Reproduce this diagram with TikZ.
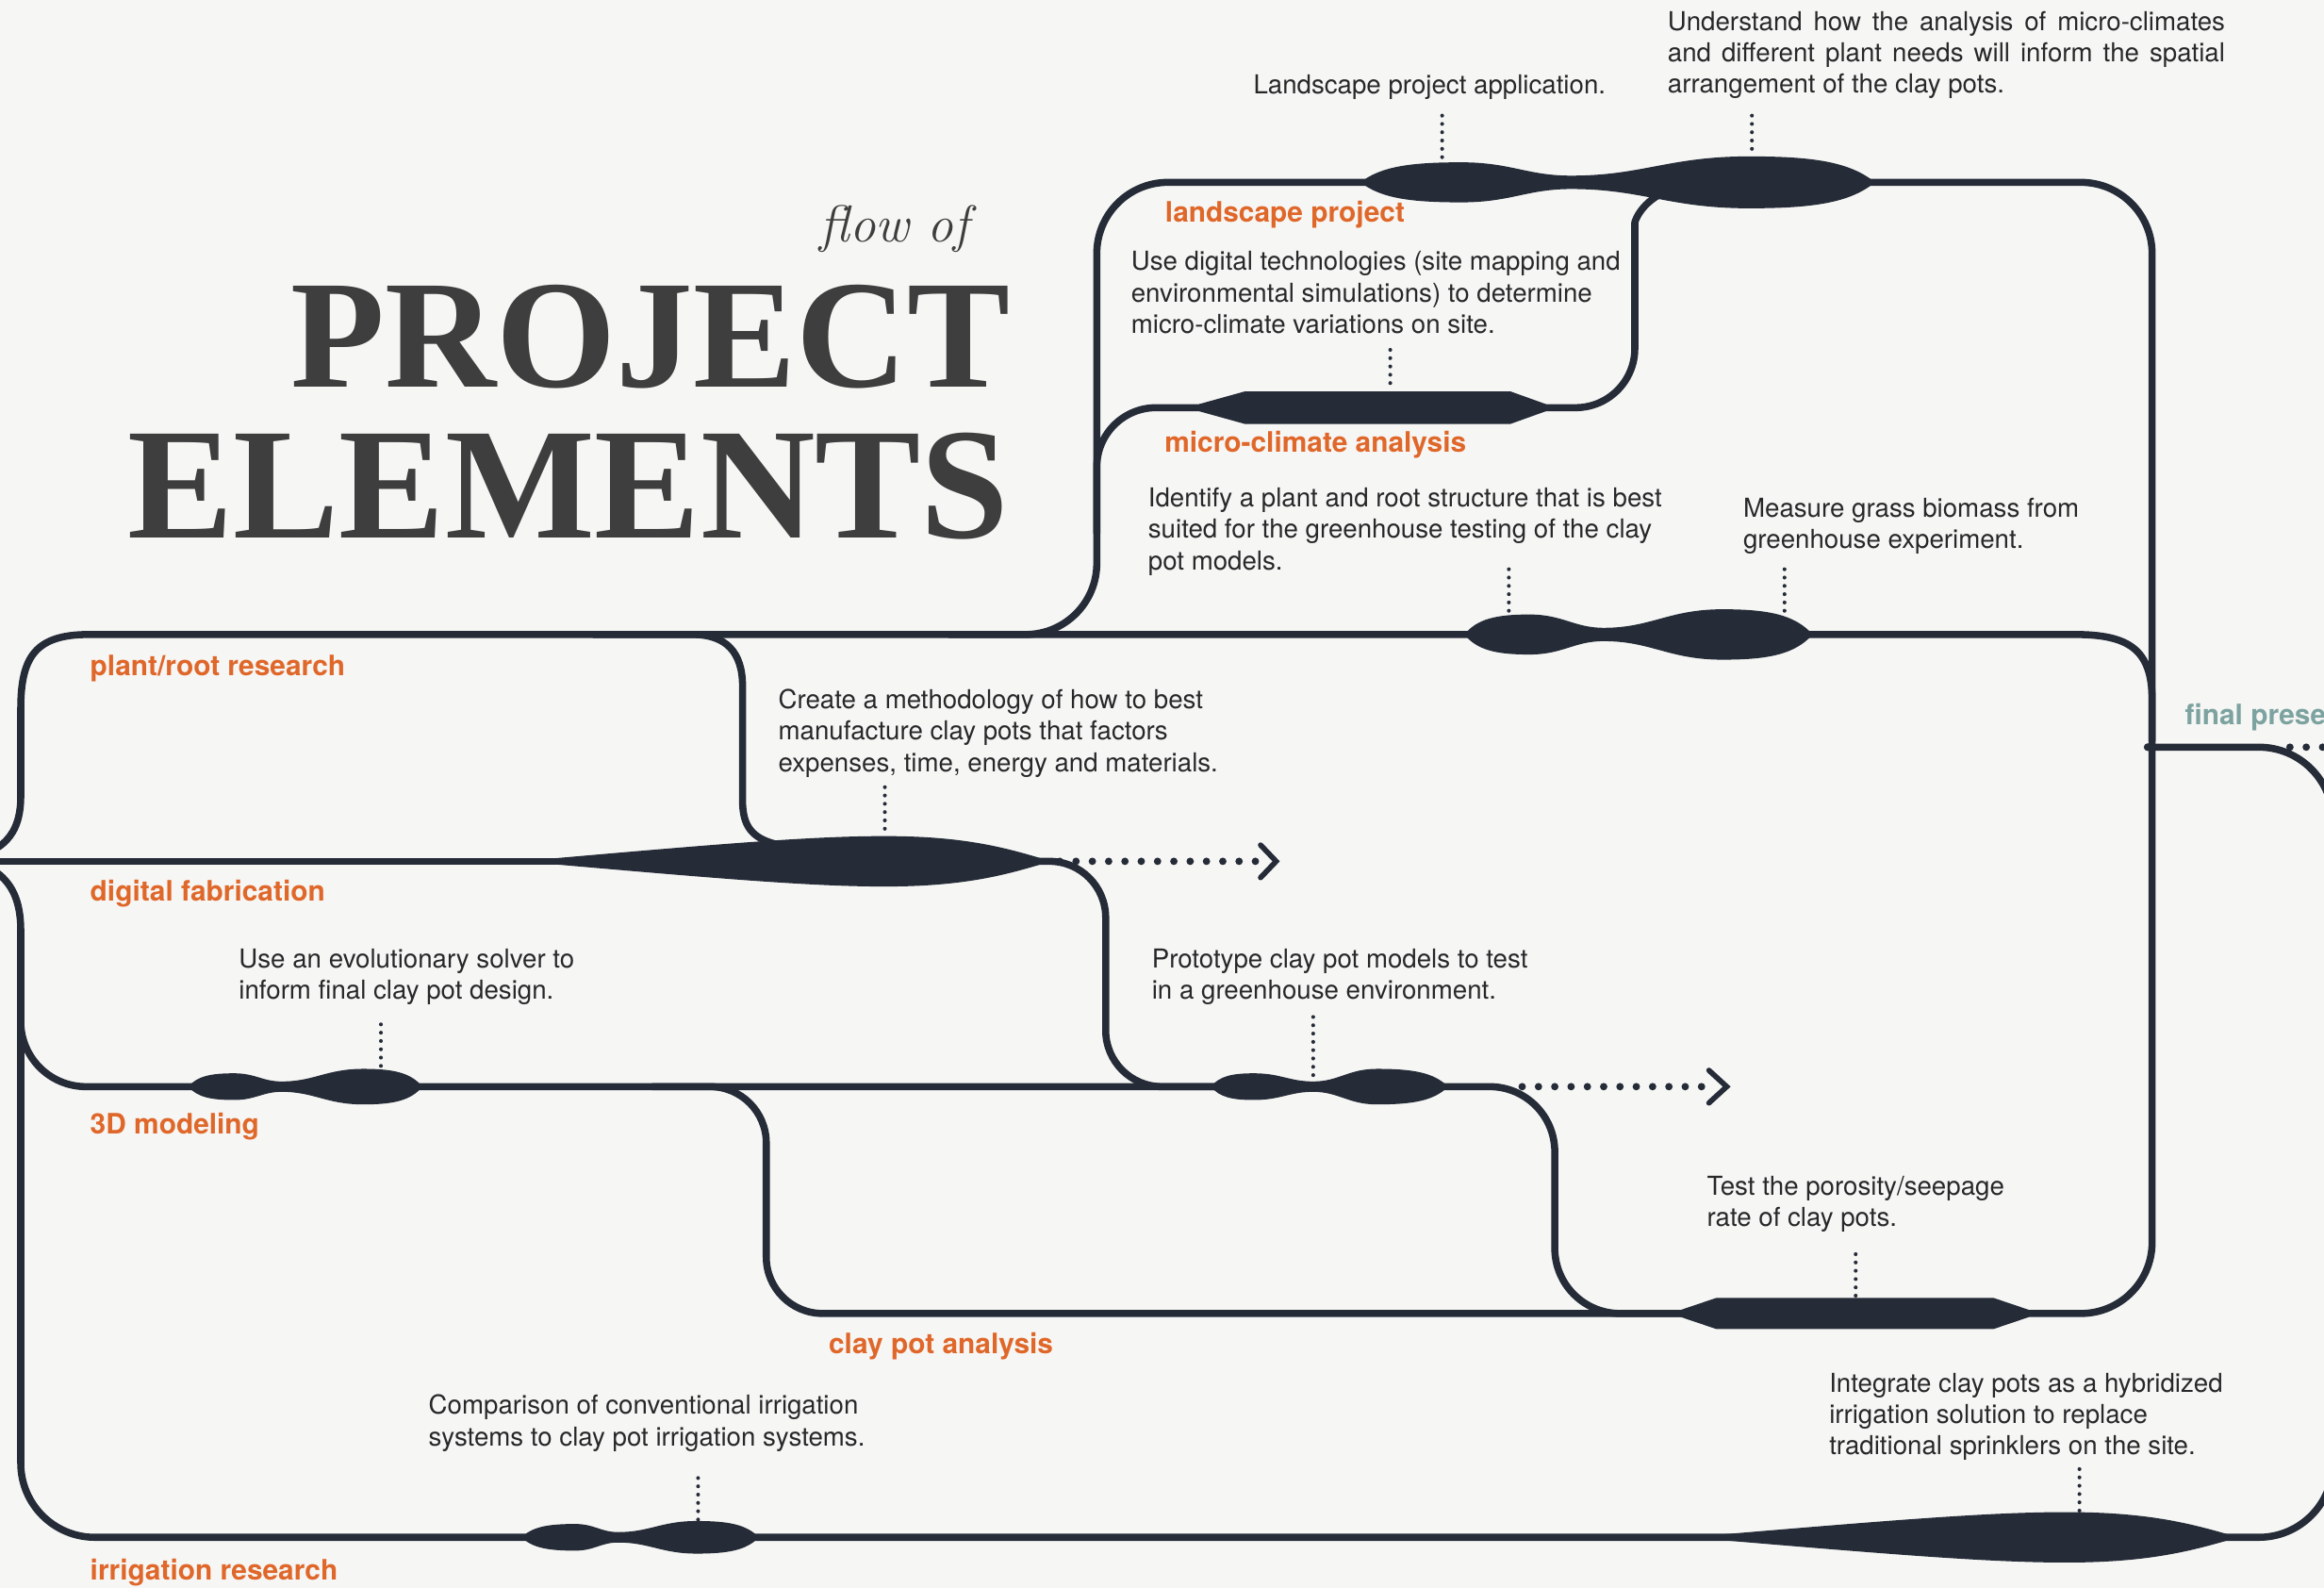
\documentclass[tikz,border=0pt]{standalone}
\usepackage{fontspec}
\setmainfont{TeX Gyre Heros}
\newfontfamily\titlefont{Liberation Serif}
\newfontfamily\lmfont{Latin Modern Roman}
\definecolor{lc}{RGB}{37,44,56}
\definecolor{tc}{RGB}{40,40,42}
\definecolor{ttc}{RGB}{62,62,62}
\definecolor{oc}{RGB}{224,103,42}
\definecolor{teal}{RGB}{124,163,160}
\definecolor{bgc}{RGB}{246,246,244}
\tikzset{
  ln/.style={draw=lc, line width=4.8pt, line join=round},
  smalldots/.style={draw=lc, line width=2.6pt, line cap=round, dash pattern=on 0pt off 5.6pt},
  bigdots/.style={draw=lc, line width=5pt, line cap=round, dash pattern=on 0pt off 11pt},
  chev/.style={draw=lc, line width=3.6pt, line cap=round, line join=miter},
  txt/.style={text=tc, font=\fontsize{17.6}{21.2}\selectfont, align=left, inner sep=0pt, anchor=base west},
  lbl/.style={text=oc, font=\bfseries\fontsize{19}{22}\selectfont, inner sep=0pt, anchor=base west},
}
% double lens: x0 p1 n p2 x1 y h1 hn h2
\newcommand\dlens[9]{%
  \fill[lc] (#1,#6)
   .. controls ({#1+0.2*(#2-#1)},{#6-0.8*#7}) and ({#2-0.5*(#2-#1)},{#6-#7}) .. (#2,{#6-#7})
   .. controls ({#2+0.45*(#3-#2)},{#6-#7}) and ({#3-0.4*(#3-#2)},{#6-#8}) .. (#3,{#6-#8})
   .. controls ({#3+0.4*(#4-#3)},{#6-#8}) and ({#4-0.45*(#4-#3)},{#6-#9}) .. (#4,{#6-#9})
   .. controls ({#4+0.5*(#5-#4)},{#6-#9}) and ({#5-0.2*(#5-#4)},{#6-0.8*#9}) .. (#5,#6)
   .. controls ({#5-0.2*(#5-#4)},{#6+0.8*#9}) and ({#4+0.5*(#5-#4)},{#6+#9}) .. (#4,{#6+#9})
   .. controls ({#4-0.45*(#4-#3)},{#6+#9}) and ({#3+0.4*(#4-#3)},{#6+#8}) .. (#3,{#6+#8})
   .. controls ({#3-0.4*(#3-#2)},{#6+#8}) and ({#2+0.45*(#3-#2)},{#6+#7}) .. (#2,{#6+#7})
   .. controls ({#2-0.5*(#2-#1)},{#6+#7}) and ({#1+0.2*(#2-#1)},{#6+0.8*#7}) .. (#1,#6) -- cycle;}
% hex lens: x0 a b x1 y h
\newcommand\hlens[6]{%
  \fill[lc] (#1,{#5-2.4}) -- (#2,{#5-#6}) -- (#3,{#5-#6}) -- (#4,{#5-2.4}) -- (#4,{#5+2.4}) -- (#3,{#5+#6}) -- (#2,{#5+#6}) -- (#1,{#5+2.4}) -- cycle;}
% single long lens: x0 xp x1 y h
\newcommand\slens[5]{%
  \fill[lc] (#1,#4)
   .. controls ({#1+0.55*(#2-#1)},{#4-0.7*#5}) and ({#2-0.2*(#2-#1)},{#4-#5}) .. (#2,{#4-#5})
   .. controls ({#2+0.5*(#3-#2)},{#4-#5}) and ({#3-0.25*(#3-#2)},{#4-0.5*#5}) .. (#3,#4)
   .. controls ({#3-0.25*(#3-#2)},{#4+0.5*#5}) and ({#2+0.5*(#3-#2)},{#4+#5}) .. (#2,{#4+#5})
   .. controls ({#2-0.2*(#2-#1)},{#4+#5}) and ({#1+0.55*(#2-#1)},{#4+0.7*#5}) .. (#1,#4) -- cycle;}
\begin{document}
\begin{tikzpicture}[x=1pt,y=-1pt]
\useasboundingbox (0,0) rectangle (1568,1071);
\fill[bgc] (0,0) rectangle (1568,1071);
\begin{scope}
\clip (0,0) rectangle (1568,1071);

% ---- flow lines ----
% landscape loop and right vertical
\draw[ln, rounded corners=48] (640,428) -- (740,428) -- (740,123) -- (1452,123) -- (1452,886) -- (1300,886);
% micro-climate branch
\draw[ln, rounded corners=40] (740,360) -- (740,275) -- (1103,275) -- (1103,190) .. controls (1103,150) and (1106,138) .. (1122,130);
% plant/root research row
\draw[ln] (-30,580) .. controls (3,577) and (14,562) .. (14,537) -- (14,478) .. controls (14,443) and (24,428) .. (60,428) -- (1400,428) .. controls (1436,428) and (1452,438) .. (1452,472) -- (1452,500);
% plant/root -> digital fabrication
\draw[ln] (400,428) -- (467,428) .. controls (490,428) and (501,440) .. (501,463) -- (501,540) .. controls (501,557) and (507,566) .. (526,570);
% digital fabrication row
\draw[ln] (-30,581) -- (420,581);
% digital fabrication -> prototype
\draw[ln, rounded corners=38] (690,581) -- (746,581) -- (746,733) -- (840,733);
% 3D modeling row and branch to clay pot analysis
\draw[ln] (-30,578) .. controls (3,584) and (14,600) .. (14,628) [rounded corners=44] -- (14,733) -- (1049,733) -- (1049,886) -- (1200,886);
% 3D modeling -> clay pot analysis
\draw[ln, rounded corners=38] (440,733) -- (517,733) -- (517,886) -- (1300,886);
% irrigation research row and final presentation loop
\draw[ln, rounded corners=50] (14,650) -- (14,1037) -- (1574,1037) -- (1574,504) -- (1449,504);
\fill[lc] (1449,504) circle (2.6);

% ---- lenses ----
\dlens{918}{986}{1060}{1180}{1265}{123}{13.5}{4.5}{17.5}
\hlens{809}{840}{1019}{1043}{275}{11}
\dlens{988}{1032}{1082}{1162}{1223}{428}{13.5}{4.5}{17}
\slens{351}{597}{709}{581}{17}
\dlens{127}{158}{190}{245}{285}{733}{9}{3.5}{12}
\dlens{817}{846}{886}{929}{977}{733}{9}{3.5}{12}
\hlens{1134}{1158}{1345}{1369}{886}{10.5}
\dlens{352}{388}{417}{470}{512}{1037}{9}{3.5}{11}
\slens{1139}{1394}{1510}{1037}{17}

% ---- annotation dots ----
\draw[smalldots] (973,78) -- (973,108);
\draw[smalldots] (1182,78) -- (1182,104);
\draw[smalldots] (938,236) -- (938,263);
\draw[smalldots] (1018,384) -- (1018,414);
\draw[smalldots] (1204,384) -- (1204,412);
\draw[smalldots] (597,531) -- (597,563);
\draw[smalldots] (257,691) -- (257,721);
\draw[smalldots] (886,686) -- (886,729);
\draw[smalldots] (1252,846) -- (1252,874);
\draw[smalldots] (471,997) -- (471,1025);
\draw[smalldots] (1403,991) -- (1403,1020);

% ---- dotted arrows ----
\draw[bigdots] (715,581) -- (848,581);
\draw[chev] (850.5,570) -- (861,581) -- (850.5,592);
\draw[bigdots] (1027,733) -- (1150,733);
\draw[chev] (1153,722) -- (1165,733) -- (1153,744);
\draw[bigdots] (1545,504) -- (1600,504);

% ---- title ----
\node[font=\lmfont\itshape\fontsize{35}{40}\selectfont, text=ttc, inner sep=0pt, anchor=base east] (flow) at (654,163) {flow of};
\node[font=\titlefont\bfseries\fontsize{104}{110}\selectfont, text=ttc, inner sep=0pt, anchor=base east] (proj) at (682,261) {PROJECT};
\node[font=\titlefont\bfseries\fontsize{107}{112}\selectfont, text=ttc, inner sep=0pt, anchor=base east] (elem) at (681,362.6) {ELEMENTS};

% ---- labels ----
\node[lbl] (l1) at (786,149.5) {landscape project};
\node[lbl] (l2) at (785.6,305) {micro-climate analysis};
\node[lbl] (l3) at (60.7,456) {plant/root research};
\node[lbl] (l4) at (60.7,607.5) {digital fabrication};
\node[lbl] (l5) at (60.7,765) {3D modeling};
\node[lbl] (l6) at (559,913) {clay pot analysis};
\node[lbl] (l7) at (60.7,1066) {irrigation research};
\node[lbl, text=teal] (l8) at (1474,489) {final presentation};

% ---- descriptions (anchor = baseline of last line) ----
\node[txt] (t1) at (1125,62.9) {\makebox[376pt][s]{Understand how the analysis of micro-climates}\\\makebox[376pt][s]{and different plant needs will inform the spatial}\\arrangement of the clay pots.};
\node[txt] (t2) at (845.5,63) {Landscape project application.};
\node[txt] (t3) at (763,224.9) {Use digital technologies (site mapping and\\environmental simulations) to determine\\micro-climate variations on site.};
\node[txt] (t4) at (774.5,384.4) {Identify a plant and root structure that is best\\suited for the greenhouse testing of the clay\\pot models.};
\node[txt] (t5) at (1176,370.2) {Measure grass biomass from\\greenhouse experiment.};
\node[txt] (t6) at (525,520.4) {Create a methodology of how to best\\manufacture clay pots that factors\\expenses, time, energy and materials.};
\node[txt] (t7) at (161,674.2) {Use an evolutionary solver to\\inform final clay pot design.};
\node[txt] (t8) at (777,674.2) {Prototype clay pot models to test\\in a greenhouse environment.};
\node[txt] (t9) at (1151.5,827.2) {Test the porosity/seepage\\rate of clay pots.};
\node[txt] (t10) at (289,975.2) {Comparison of conventional irrigation\\systems to clay pot irrigation systems.};
\node[txt] (t11) at (1234,981.4) {Integrate clay pots as a hybridized\\irrigation solution to replace\\traditional sprinklers on the site.};
\end{scope}
\end{tikzpicture}
\end{document}
